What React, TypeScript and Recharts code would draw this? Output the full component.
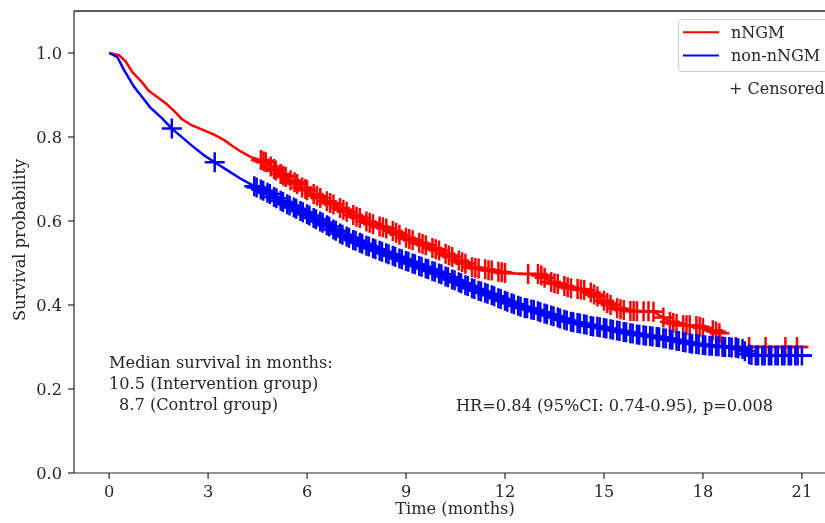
import React from 'react';
import { ComposedChart, Line, Scatter, XAxis, YAxis, ReferenceLine } from 'recharts';

// Kaplan-Meier curves: time (months), survival, censored flag (1 = censor mark)
const redTimes = [0, 0.3, 0.5, 0.7, 1.0, 1.2, 1.5, 1.75, 2.0, 2.2, 2.5, 2.75, 3.2, 3.5, 3.75, 4.0, 4.3,
  4.6, 4.75, 4.9, 5.05, 5.2, 5.35, 5.5, 5.7, 5.85, 6.0, 6.2, 6.4, 6.6, 6.8, 7.0, 7.2, 7.4, 7.6, 7.8,
  8.0, 8.2, 8.4, 8.6, 8.8, 9.0, 9.2, 9.4, 9.6, 9.8, 10.0, 10.2, 10.4, 10.6, 10.8, 11.0, 11.2, 11.4,
  11.6, 11.8, 12.0, 12.3, 12.7, 13.0, 13.2, 13.4, 13.6, 13.8, 14.0, 14.2, 14.4, 14.6, 14.8, 15.0,
  15.2, 15.4, 15.6, 15.8, 16.0, 16.2, 16.5, 16.8, 17.0, 17.2, 17.4, 17.6, 17.8, 18.0, 18.3, 18.5,
  18.6, 19.0, 19.4, 19.9, 20.5, 20.85, 21.2];
const redSurv = [1.0, 0.995, 0.98, 0.955, 0.93, 0.91, 0.893, 0.878, 0.86, 0.843, 0.828, 0.82, 0.805, 0.792, 0.778, 0.765, 0.752,
  0.745, 0.74, 0.73, 0.72, 0.712, 0.705, 0.697, 0.688, 0.68, 0.673, 0.664, 0.655, 0.647, 0.639, 0.631, 0.622, 0.614, 0.607, 0.599,
  0.592, 0.587, 0.582, 0.576, 0.567, 0.56, 0.554, 0.548, 0.542, 0.536, 0.53, 0.522, 0.514, 0.506, 0.498, 0.49, 0.487, 0.485,
  0.482, 0.479, 0.476, 0.475, 0.474, 0.474, 0.465, 0.455, 0.45, 0.445, 0.44, 0.438, 0.436, 0.43, 0.42, 0.41,
  0.4, 0.392, 0.388, 0.386, 0.385, 0.385, 0.384, 0.37, 0.36, 0.355, 0.352, 0.352, 0.35, 0.345, 0.34, 0.333,
  0.3, 0.3, 0.3, 0.3, 0.3, 0.3, 0.3];
const redCens = [0, 0, 0, 0, 0, 0, 0, 0, 0, 0, 0, 0, 0, 0, 0, 0, 0,
  1, 1, 1, 1, 1, 1, 1, 1, 1, 1, 1, 1, 1, 1, 1, 1, 1, 1, 1,
  1, 1, 1, 1, 1, 1, 1, 1, 1, 1, 1, 1, 1, 1, 1, 1, 1, 1,
  1, 1, 1, 0, 1, 1, 1, 1, 1, 1, 1, 1, 1, 1, 1, 1,
  1, 1, 1, 1, 1, 1, 1, 1, 1, 1, 1, 1, 1, 1, 1, 1,
  1, 1, 1, 1, 1, 1, 0];
// further red censor marks between the curve points
const redExtraTimes = [4.68, 5.0, 5.28, 5.62, 5.95, 6.3, 6.7, 7.1, 7.5, 7.9, 8.3, 8.7, 9.1, 9.5, 9.9, 10.3, 10.7,
  11.1, 11.5, 11.9, 13.1, 13.5, 13.9, 14.3, 14.7, 15.1, 15.5, 15.9, 16.35, 17.1, 17.5, 17.9, 18.4];
const redExtraSurv = [0.742, 0.724, 0.708, 0.692, 0.676, 0.66, 0.643, 0.627, 0.61, 0.596, 0.585, 0.572, 0.557, 0.545, 0.533, 0.518, 0.502,
  0.488, 0.483, 0.478, 0.47, 0.452, 0.442, 0.437, 0.425, 0.405, 0.39, 0.386, 0.385, 0.357, 0.352, 0.348, 0.337];

const blueTimes = [0, 0.25, 0.45, 0.75, 1.0, 1.25, 1.6, 1.9, 2.5, 2.9, 3.2, 3.6, 4.0,
  4.4, 4.6, 4.8, 5.0, 5.2, 5.4, 5.6, 5.8, 6.0, 6.2, 6.4, 6.6, 6.8, 7.0, 7.2, 7.4, 7.6, 7.8,
  8.0, 8.2, 8.4, 8.6, 8.8, 9.0, 9.2, 9.4, 9.6, 9.8, 10.0, 10.2, 10.4, 10.6, 10.8, 11.0, 11.2, 11.4,
  11.6, 11.8, 12.0, 12.2, 12.4, 12.6, 12.8, 13.0, 13.2, 13.4, 13.6, 13.8, 14.0, 14.2, 14.4, 14.6,
  14.8, 15.0, 15.2, 15.4, 15.6, 15.8, 16.0, 16.2, 16.4, 16.6, 16.8, 17.0, 17.2, 17.4, 17.6, 17.8,
  18.0, 18.2, 18.4, 18.6, 18.8, 19.0, 19.2, 19.4, 19.6, 19.8, 20.0, 20.2, 20.4, 20.6, 20.8, 21.0, 21.3];
const blueSurv = [1.0, 0.99, 0.96, 0.92, 0.895, 0.87, 0.845, 0.82, 0.78, 0.755, 0.74, 0.72, 0.7,
  0.683, 0.675, 0.667, 0.657, 0.648, 0.64, 0.632, 0.624, 0.616, 0.607, 0.599, 0.59, 0.58, 0.57, 0.563, 0.555, 0.548, 0.541,
  0.535, 0.529, 0.523, 0.517, 0.511, 0.505, 0.499, 0.493, 0.487, 0.481, 0.475, 0.468, 0.461, 0.454, 0.447, 0.44, 0.434, 0.429,
  0.423, 0.416, 0.41, 0.404, 0.398, 0.393, 0.389, 0.385, 0.38, 0.375, 0.37, 0.365, 0.36, 0.357, 0.354, 0.35,
  0.348, 0.345, 0.342, 0.339, 0.336, 0.333, 0.33, 0.328, 0.326, 0.324, 0.321, 0.318, 0.315, 0.312, 0.309, 0.307,
  0.305, 0.303, 0.302, 0.301, 0.3, 0.298, 0.295, 0.283, 0.28, 0.28, 0.28, 0.28, 0.28, 0.28, 0.28, 0.28, 0.28];
const blueCens = [0, 0, 0, 0, 0, 0, 0, 1, 0, 0, 1, 0, 0,
  1, 1, 1, 1, 1, 1, 1, 1, 1, 1, 1, 1, 1, 1, 1, 1, 1, 1,
  1, 1, 1, 1, 1, 1, 1, 1, 1, 1, 1, 1, 1, 1, 1, 1, 1, 1,
  1, 1, 1, 1, 1, 1, 1, 1, 1, 1, 1, 1, 1, 1, 1, 1,
  1, 1, 1, 1, 1, 1, 1, 1, 1, 1, 1, 1, 1, 1, 1, 1,
  1, 1, 1, 1, 1, 1, 1, 1, 1, 1, 1, 1, 1, 1, 1, 1, 0];
// further blue censor marks (the marks come in tight clusters)
const blueExtraTimes = [4.47, 4.67, 4.87, 5.07, 5.27, 5.47, 5.67, 5.87, 6.07, 6.27, 6.47, 6.67, 6.87, 7.07, 7.27, 7.47,
  7.67, 7.87, 8.07, 8.27, 8.47, 8.67, 8.87, 9.07, 9.27, 9.47, 9.67, 9.87, 10.07, 10.27, 10.47, 10.67, 10.87,
  11.07, 11.27, 11.47, 11.67, 11.87, 12.07, 12.27, 12.47, 12.67, 12.87, 13.07, 13.27, 13.47, 13.67, 13.87,
  14.07, 14.27, 14.47, 14.67, 14.87, 15.07, 15.27, 15.47, 15.67, 15.87, 16.07, 16.27, 16.47, 16.67, 16.87,
  17.07, 17.27, 17.47, 17.67, 17.87, 18.07, 18.27, 18.47, 18.67, 18.87, 19.07, 19.27, 19.47, 19.67, 19.87,
  20.07, 20.27, 20.47, 20.67, 20.87];
const blueExtraSurv = [0.68, 0.672, 0.664, 0.654, 0.645, 0.637, 0.629, 0.621, 0.613, 0.604, 0.596, 0.587, 0.577, 0.567, 0.56, 0.553,
  0.546, 0.539, 0.533, 0.527, 0.521, 0.515, 0.509, 0.503, 0.497, 0.491, 0.485, 0.479, 0.473, 0.466, 0.459, 0.452, 0.445,
  0.438, 0.432, 0.427, 0.421, 0.414, 0.408, 0.402, 0.396, 0.392, 0.388, 0.383, 0.378, 0.373, 0.368, 0.363,
  0.359, 0.356, 0.353, 0.349, 0.347, 0.344, 0.341, 0.338, 0.335, 0.332, 0.329, 0.327, 0.325, 0.323, 0.32,
  0.317, 0.314, 0.311, 0.308, 0.306, 0.304, 0.303, 0.302, 0.3, 0.299, 0.297, 0.29, 0.281, 0.28, 0.28,
  0.28, 0.28, 0.28, 0.28, 0.28];

const xTicks = [0, 3, 6, 9, 12, 15, 18, 21];
const yTicks = [0, 0.2, 0.4, 0.6, 0.8, 1.0];

const seriesNames = ['nNGM', 'non-nNGM'];
const medianLines = ['Median survival in months:', '10.5 (Intervention group)', '8.7 (Control group)'];
const hrText = 'HR=0.84 (95%CI: 0.74-0.95), p=0.008';

const build = (ts: number[], ss: number[]) => ts.map((t, i) => ({ t, s: ss[i] }));
const buildCens = (ts: number[], ss: number[], cs: number[], et: number[], es: number[]) => [
  ...ts.map((t, i) => ({ t, s: ss[i], c: cs[i] })).filter((d) => d.c === 1),
  ...et.map((t, i) => ({ t, s: es[i], c: 1 })),
];

const redData = build(redTimes, redSurv);
const blueData = build(blueTimes, blueSurv);
const redCensData = buildCens(redTimes, redSurv, redCens, redExtraTimes, redExtraSurv);
const blueCensData = buildCens(blueTimes, blueSurv, blueCens, blueExtraTimes, blueExtraSurv);

const FONT = "'DejaVu Serif', serif";
const INK = '#262626';
const FS = 16.2;
const LFS = 16;

const plusShape = (color: string) => (props: any) => {
  const { cx, cy } = props;
  if (cx == null || cy == null) return <g />;
  return (
    <path
      d={`M${cx - 10},${cy} H${cx + 10} M${cx},${cy - 10} V${cy + 10}`}
      stroke={color}
      strokeWidth={2.5}
      fill="none"
    />
  );
};

export default function App() {
  return (
    <div style={{ position: 'fixed', left: 8, top: 8, width: 817, height: 515, overflow: 'hidden' }}>
      <ComposedChart width={817} height={515} margin={{ top: 3, right: 0, bottom: 0, left: 0 }}>
        <XAxis
          type="number"
          dataKey="t"
          domain={[-1.065, 21.7]}
          ticks={xTicks}
          allowDataOverflow
          height={50}
          tickSize={6}
          tickMargin={6}
          stroke={INK}
          strokeWidth={1.2}
          tick={{ fill: INK, fontSize: FS, fontFamily: FONT }}
        />
        <YAxis
          type="number"
          dataKey="s"
          domain={[0, 1.1]}
          ticks={yTicks}
          allowDataOverflow
          width={66}
          tickSize={6}
          tickMargin={6}
          stroke={INK}
          strokeWidth={1.2}
          tickFormatter={(v: number) => v.toFixed(1)}
          tick={{ fill: INK, fontSize: FS, fontFamily: FONT }}
        />
        <ReferenceLine y={1.1} stroke={INK} strokeWidth={1.5} ifOverflow="visible" />
        <Line data={redData} dataKey="s" type="linear" stroke="#ff0000" strokeWidth={2.5} dot={false} isAnimationActive={false} />
        <Scatter data={redCensData} dataKey="s" shape={plusShape('#ff0000')} isAnimationActive={false} />
        <Line data={blueData} dataKey="s" type="linear" stroke="#0000ff" strokeWidth={2.5} dot={false} isAnimationActive={false} />
        <Scatter data={blueCensData} dataKey="s" shape={plusShape('#0000ff')} isAnimationActive={false} />
      </ComposedChart>
      <svg
        width={817}
        height={515}
        style={{ position: 'absolute', left: 0, top: 0, pointerEvents: 'none' }}
        fontFamily={FONT}
      >
        <text x={12} y={232} transform="rotate(-90 12 232)" textAnchor="middle" dominantBaseline="middle" fontSize={FS} fill={INK}>
          Survival probability
        </text>
        <text x={447} y={506} textAnchor="middle" fontSize={FS} fill={INK}>
          Time (months)
        </text>
        <text x={101} y={360} fontSize={FS} fill={INK}>{medianLines[0]}</text>
        <text x={101} y={381} fontSize={FS} fill={INK}>{medianLines[1]}</text>
        <text x={111} y={402} fontSize={FS} fill={INK}>{medianLines[2]}</text>
        <text x={448} y={403} fontSize={FS} fill={INK}>{hrText}</text>
        <rect x={670.5} y={11.5} width={170} height={52} rx={3} fill="#ffffff" fillOpacity={0.85} stroke="#cccccc" strokeWidth={1} />
        <line x1={675} y1={24.3} x2={711} y2={24.3} stroke="#ff0000" strokeWidth={2} />
        <line x1={675} y1={47.5} x2={711} y2={47.5} stroke="#0000ff" strokeWidth={2} />
        <text x={723} y={29.5} fontSize={LFS} fill={INK}>{seriesNames[0]}</text>
        <text x={723} y={53} fontSize={LFS} fill={INK}>{seriesNames[1]}</text>
        <text x={721} y={86} fontSize={LFS} fill={INK}>+ Censored</text>
      </svg>
    </div>
  );
}
